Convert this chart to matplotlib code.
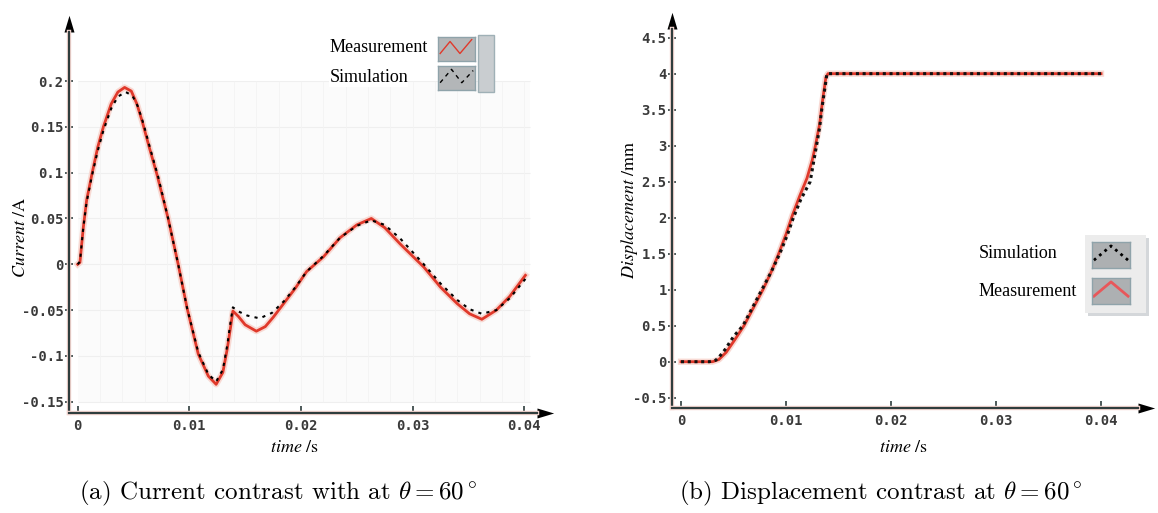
import numpy as np
import matplotlib
matplotlib.use("Agg")
import matplotlib.pyplot as plt
import matplotlib.patheffects as pe

plt.rcParams['mathtext.fontset'] = 'stix'

# Corriente (a): tiempo en s, corriente en A
t_cur_meas = [0.0, 0.0002, 0.0005, 0.0008, 0.0013, 0.0018, 0.0023, 0.0030, 0.0036, 0.0042,
              0.0048, 0.0053, 0.0058, 0.0064, 0.0071, 0.0081, 0.0090, 0.0098, 0.0108, 0.0117,
              0.0124, 0.0130, 0.0134, 0.0137, 0.0139, 0.0144, 0.0150, 0.0160, 0.0168, 0.0175,
              0.0185, 0.0195, 0.0205, 0.0220, 0.0235, 0.0250, 0.0263, 0.0275, 0.0289, 0.0310,
              0.0325, 0.0340, 0.0351, 0.0362, 0.0375, 0.0387, 0.0401]
cur_meas = [0.000, 0.002, 0.040, 0.070, 0.100, 0.128, 0.150, 0.175, 0.188, 0.193,
            0.189, 0.175, 0.155, 0.128, 0.098, 0.050, 0.000, -0.048, -0.098, -0.122,
            -0.131, -0.118, -0.092, -0.068, -0.051, -0.057, -0.066, -0.073, -0.068, -0.058,
            -0.042, -0.026, -0.008, 0.008, 0.029, 0.043, 0.050, 0.040, 0.022, -0.003,
            -0.025, -0.043, -0.054, -0.060, -0.050, -0.035, -0.012]

t_cur_sim = [0.0, 0.0002, 0.0005, 0.0008, 0.0013, 0.0018, 0.0023, 0.0030, 0.0036, 0.0043,
             0.0049, 0.0054, 0.0059, 0.0065, 0.0072, 0.0081, 0.0090, 0.0098, 0.0108, 0.0117,
             0.0124, 0.0130, 0.0134, 0.0137, 0.0139, 0.0145, 0.0152, 0.0163, 0.0174, 0.0185,
             0.0195, 0.0205, 0.0220, 0.0235, 0.0250, 0.0263, 0.0275, 0.0289, 0.0310, 0.0325,
             0.0340, 0.0351, 0.0362, 0.0375, 0.0387, 0.0401]
cur_sim = [0.000, 0.003, 0.040, 0.068, 0.098, 0.124, 0.146, 0.170, 0.183, 0.188,
           0.184, 0.172, 0.153, 0.126, 0.096, 0.050, 0.000, -0.048, -0.096, -0.120,
           -0.128, -0.115, -0.088, -0.062, -0.047, -0.052, -0.056, -0.059, -0.053, -0.040,
           -0.025, -0.008, 0.009, 0.029, 0.042, 0.048, 0.043, 0.028, 0.000, -0.021,
           -0.039, -0.049, -0.054, -0.050, -0.037, -0.016]

# Desplazamiento (b): tiempo en s, desplazamiento en mm
t_disp_sim = [0.0, 0.0027, 0.0033, 0.0036, 0.0042, 0.0050, 0.0059, 0.0068, 0.0077, 0.0086,
              0.0094, 0.0101, 0.0107, 0.0114, 0.0123, 0.0126, 0.0129, 0.0132, 0.0134, 0.0137,
              0.0139, 0.0400]
disp_sim = [0.0, 0.0, 0.02, 0.06, 0.17, 0.35, 0.50, 0.75, 1.00, 1.25,
            1.50, 1.75, 2.00, 2.25, 2.50, 2.75, 3.00, 3.25, 3.50, 3.80,
            4.00, 4.00]

t_disp_meas = [0.0, 0.0030, 0.0036, 0.0043, 0.0051, 0.0060, 0.0069, 0.0078, 0.0086, 0.0093,
               0.0100, 0.0106, 0.0113, 0.0120, 0.0125, 0.0128, 0.0132, 0.0135, 0.0138, 0.0140,
               0.0400]
disp_meas = [0.0, 0.0, 0.03, 0.13, 0.30, 0.50, 0.75, 1.00, 1.25, 1.50,
             1.77, 2.03, 2.30, 2.55, 2.80, 3.00, 3.30, 3.65, 3.95, 4.00,
             4.00]

x_ticks = [0, 0.01, 0.02, 0.03, 0.04]
x_labels = ['0', '0.01', '0.02', '0.03', '0.04']
cur_ticks = [-0.15, -0.1, -0.05, 0, 0.05, 0.1, 0.15, 0.2]
cur_labels = ['-0.15', '-0.1', '-0.05', '0', '0.05', '0.1', '0.15', '0.2']
disp_ticks = [-0.5, 0, 0.5, 1, 1.5, 2, 2.5, 3, 3.5, 4, 4.5]
disp_labels = ['-0.5', '0', '0.5', '1', '1.5', '2', '2.5', '3', '3.5', '4', '4.5']

W, H = 1158, 513
AXC = '#2f3d3d'
RED = '#e0392b'
HALO = '#f8d9d3'


def px(x, y):
    # pixel -> fraccion de figura
    return x / W, 1 - y / H


def rect(x0, y0, x1, y1):
    return [x0 / W, 1 - y1 / H, (x1 - x0) / W, (y1 - y0) / H]


def style_axes(ax, xt, xl, yt, yl):
    for s in ['top', 'right']:
        ax.spines[s].set_visible(False)
    for s in ['left', 'bottom']:
        ax.spines[s].set_color(AXC)
        ax.spines[s].set_linewidth(1.6)
        ax.spines[s].set_path_effects([pe.Stroke(linewidth=3.2, foreground=HALO), pe.Normal()])
    ax.set_xticks(xt)
    ax.set_xticklabels(xl)
    ax.set_yticks(yt)
    ax.set_yticklabels(yl)
    ax.tick_params(axis='x', direction='in', length=5, width=1.2, color=AXC, pad=4)
    ax.tick_params(axis='y', direction='inout', length=6, width=1.2, color=AXC, pad=1)
    for lab in ax.get_xticklabels() + ax.get_yticklabels():
        lab.set_fontfamily('DejaVu Sans Mono')
        lab.set_fontsize(10)
        lab.set_fontweight('bold')
        lab.set_color('#3a3a3a')
    # flechas en los extremos de los ejes
    ax.plot(1, 0, marker=[(0, -0.3), (1, 0), (0, 0.3)], ms=24, color='black',
            transform=ax.transAxes, clip_on=False, mec='none')
    ax.plot(0, 1, marker=[(-0.3, 0), (0, 1), (0.3, 0)], ms=24, color='black',
            transform=ax.transAxes, clip_on=False, mec='none')


def swatch(fig, r, face, xs, ys, **kw):
    sa = fig.add_axes(r)
    sa.set_zorder(5)
    sa.set_facecolor(face)
    sa.set_xlim(0, 1)
    sa.set_ylim(0, 1)
    sa.set_xticks([])
    sa.set_yticks([])
    for s in sa.spines.values():
        s.set_color('#8fa3aa')
        s.set_linewidth(1.0)
    sa.plot(xs, ys, **kw)
    return sa


def main() -> None:
    fig = plt.figure(figsize=(W / 100, H / 100), dpi=100)

    # ---------------- (a) corriente ----------------
    ax1 = fig.add_axes(rect(69, 32, 537, 413.3))
    ax1.set_xlim(-0.00078, 0.04114)
    ax1.set_ylim(-0.1626, 0.2535)
    # fondo con rejilla tenue
    ax1.add_patch(plt.Rectangle((0, -0.15), 0.0405, 0.35, facecolor='#fbfbfb', edgecolor='none', zorder=0))
    ax1.hlines(cur_ticks, 0, 0.0405, color='#efefef', lw=0.8, zorder=0)
    ax1.vlines(np.arange(0.002, 0.0405, 0.002), -0.15, 0.2, color='#f3f3f3', lw=0.6, zorder=0)

    ax1.plot(t_cur_meas, cur_meas, color=RED, lw=2.0, solid_joinstyle='round',
             path_effects=[pe.Stroke(linewidth=4.5, foreground=HALO), pe.Normal()], zorder=3)
    ax1.plot(t_cur_sim, cur_sim, color='black', lw=1.5, ls=(0, (1.5, 2.5)), zorder=4)
    style_axes(ax1, x_ticks, x_labels, cur_ticks, cur_labels)

    # ---------------- (b) desplazamiento ----------------
    ax2 = fig.add_axes(rect(672.3, 29, 1138, 408.3))
    ax2.set_xlim(-0.00083, 0.04352)
    ax2.set_ylim(-0.647, 4.62)
    ax2.plot(t_disp_meas, disp_meas, color=RED, lw=2.0,
             path_effects=[pe.Stroke(linewidth=4.5, foreground=HALO), pe.Normal()], zorder=3)
    ax2.plot(t_disp_sim, disp_sim, color='#111111', lw=2.2, ls=(0, (1, 1.2)), zorder=4)
    style_axes(ax2, x_ticks, x_labels, disp_ticks, disp_labels)

    # etiquetas de ejes
    fig.text(*px(19.6, 237), r'$\mathit{Current}\ /\mathrm{A}$', rotation=90,
             ha='center', va='center', fontsize=13)
    fig.text(*px(294, 447), r'$\mathit{time}\ /\mathrm{s}$', ha='center', va='center', fontsize=13)
    fig.text(*px(630, 210), r'$\mathit{Displacement}\ /\mathrm{mm}$', rotation=90,
             ha='center', va='center', fontsize=13)
    fig.text(*px(903, 447), r'$\mathit{time}\ /\mathrm{s}$', ha='center', va='center', fontsize=13)

    # leyenda (a)
    fig.add_artist(plt.Rectangle(px(478, 91.7), 16 / W, 56.7 / H, transform=fig.transFigure,
                                 facecolor='#c9cdd0', edgecolor='#9fb0b6', lw=1.0))
    swatch(fig, rect(438.3, 36.7, 475, 60.7), '#b3b6b8', [0.05, 0.32, 0.59, 0.91], [0.3, 0.8, 0.3, 0.88],
           color=RED, lw=1.0)
    swatch(fig, rect(438.3, 65.7, 475, 90), '#b3b6b8', [0.05, 0.36, 0.64, 0.95], [0.3, 0.85, 0.3, 0.8],
           color='black', lw=1.0, ls=(0, (3, 3)))
    fig.text(*px(329.3, 48), 'Measurement', family='Liberation Serif', fontsize=13, va='center',
             bbox=dict(facecolor='white', edgecolor='none', pad=0))
    fig.text(*px(329.3, 78), 'Simulation', family='Liberation Serif', fontsize=13, va='center',
             bbox=dict(facecolor='white', edgecolor='none', pad=0))

    # leyenda (b)
    fig.add_artist(plt.Rectangle(px(1088, 316), 61 / W, 78 / H, transform=fig.transFigure,
                                 facecolor='#d4d7da', edgecolor='none', zorder=0.5))
    fig.add_artist(plt.Rectangle(px(1085, 313), 61 / W, 78 / H, transform=fig.transFigure,
                                 facecolor='#ececec', edgecolor='none', zorder=0.6))
    swatch(fig, rect(1092, 242, 1130, 268), '#adb0b2', [0.05, 0.5, 0.95], [0.3, 0.85, 0.3],
           color='black', lw=2.0, ls=(0, (1, 1.5)))
    swatch(fig, rect(1092, 278, 1130, 304), '#adb0b2', [0.05, 0.5, 0.95], [0.3, 0.85, 0.3],
           color='#e8575a', lw=2.0)
    fig.text(*px(979, 254), 'Simulation', family='Liberation Serif', fontsize=13, va='center')
    fig.text(*px(979, 291), 'Measurement', family='Liberation Serif', fontsize=13, va='center')

    # subtitulos
    fig.text(*px(278.5, 493), r'(a) Current contrast with at $\theta = 60^\circ$', family='cmr10',
             math_fontfamily='cm', fontsize=18, ha='center', va='center')
    fig.text(*px(881, 493), r'(b) Displacement contrast at $\theta = 60^\circ$', family='cmr10',
             math_fontfamily='cm', fontsize=18, ha='center', va='center')

    fig.savefig('out.png', dpi=100)


if __name__ == "__main__":
    main()
